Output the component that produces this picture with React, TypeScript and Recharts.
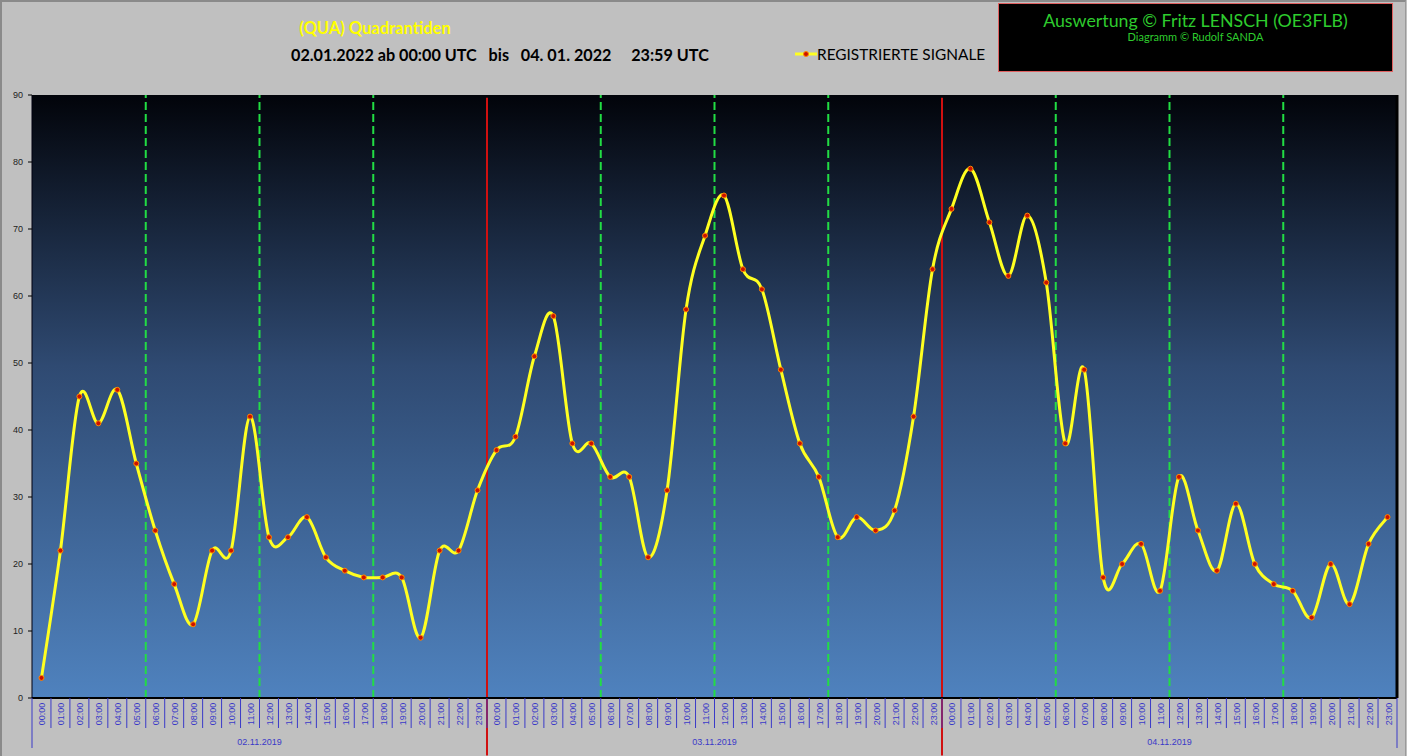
import { LineChart, Line, XAxis, YAxis, ReferenceLine, ReferenceArea } from 'recharts'

const HOURS = [
  '00:00', '01:00', '02:00', '03:00', '04:00', '05:00', '06:00', '07:00',
  '08:00', '09:00', '10:00', '11:00', '12:00', '13:00', '14:00', '15:00',
  '16:00', '17:00', '18:00', '19:00', '20:00', '21:00', '22:00', '23:00',
]
const DAYS = ['02.11.2019', '03.11.2019', '04.11.2019']

const SIGNALS_DAY1 = [3, 22, 45, 41, 46, 35, 25, 17, 11, 22, 22, 42, 24, 24, 27, 21, 19, 18, 18, 18, 9, 22, 22, 31]
const SIGNALS_DAY2 = [37, 39, 51, 57, 38, 38, 33, 33, 21, 31, 58, 69, 75, 64, 61, 49, 38, 33, 24, 27, 25, 28, 42, 64]
const SIGNALS_DAY3 = [73, 79, 71, 63, 72, 62, 38, 49, 18, 20, 23, 16, 33, 25, 19, 29, 20, 17, 16, 12, 20, 14, 23, 27]

const Y_TICKS = [0, 10, 20, 30, 40, 50, 60, 70, 80, 90]
// green dashed marker after these hours, red line between days
const GREEN_AFTER = ['05:00', '11:00', '17:00']

const SIGNALS = [SIGNALS_DAY1, SIGNALS_DAY2, SIGNALS_DAY3]
const data = SIGNALS.flatMap((day, d) =>
  day.map((value, h) => ({ i: d * 24 + h, hour: HOURS[h], value })),
)
const xTicks = data.map((p) => p.i)
const greenLines = DAYS.flatMap((_, d) =>
  GREEN_AFTER.map((h) => d * 24 + HOURS.indexOf(h) + 0.5),
)
const redLines = DAYS.slice(1).map((_, d) => (d + 1) * 24 - 0.5)

const W = 1407
const H = 756
const MARGIN = { top: 95, right: 10, bottom: 0, left: 6 }
const Y_AXIS_W = 26
const HALF_BAND = (W - MARGIN.left - Y_AXIS_W - MARGIN.right) / data.length / 2

const BLUE = '#3a3ac8'

// smoothing like the spreadsheet's "smoothed line" (catmull-rom style)
const smoothCurve = (context) => {
  let pts = []
  return {
    areaStart() {},
    areaEnd() {},
    lineStart() {
      pts = []
    },
    lineEnd() {
      const n = pts.length
      if (!n) return
      context.moveTo(pts[0][0], pts[0][1])
      for (let k = 0; k < n - 1; k++) {
        const p0 = pts[k - 1] ?? pts[k]
        const p1 = pts[k]
        const p2 = pts[k + 1]
        const p3 = pts[k + 2] ?? p2
        context.bezierCurveTo(
          p1[0] + (p2[0] - p0[0]) / 6,
          p1[1] + (p2[1] - p0[1]) / 6,
          p2[0] - (p3[0] - p1[0]) / 6,
          p2[1] - (p3[1] - p1[1]) / 6,
          p2[0],
          p2[1],
        )
      }
    },
    point(x, y) {
      pts.push([+x, +y])
    },
  }
}

const HourTick = ({ x, y, payload }) => {
  const i = payload.value
  const h = i % 24
  const d = Math.floor(i / 24)
  const xl = x - HALF_BAND
  const isEdge = i === 0
  const isLast = i === data.length - 1
  return (
    <g>
      <line x1={xl} x2={xl} y1={y} y2={y + (isEdge ? 50 : 30)} stroke={BLUE} strokeWidth={1} />
      {isLast && (
        <line x1={x + HALF_BAND} x2={x + HALF_BAND} y1={y} y2={y + 50} stroke={BLUE} strokeWidth={1} />
      )}
      <text
        transform={`translate(${x + 1}, ${y + 16}) rotate(-90)`}
        textAnchor="middle"
        dominantBaseline="central"
        fontSize={9}
        fontFamily="Liberation Sans, Arial, sans-serif"
        fill={BLUE}
      >
        {HOURS[h]}
      </text>
      {h === 12 && (
        <text
          x={xl}
          y={y + 44}
          textAnchor="middle"
          dominantBaseline="central"
          fontSize={9}
          fontFamily="Liberation Sans, Arial, sans-serif"
          fill={BLUE}
        >
          {DAYS[d]}
        </text>
      )}
    </g>
  )
}

const LegendMark = () => (
  <svg width={22} height={10} style={{ verticalAlign: 'middle' }}>
    <line x1={0} x2={22} y1={5} y2={5} stroke="#ffff20" strokeWidth={3} />
    <circle cx={11} cy={5} r={2.5} fill="#cc1100" stroke="#ff8800" strokeWidth={1} />
  </svg>
)

export default function App() {
  return (
    <div
      style={{
        position: 'absolute',
        left: 0,
        top: 0,
        width: W,
        height: H,
        background: '#c0c0c0',
        overflow: 'hidden',
        fontFamily: 'Lato, sans-serif',
      }}
    >
      <div
        style={{
          position: 'absolute',
          left: 0,
          top: 0,
          width: W - 4,
          height: H,
          borderTop: '2px solid #8a8a8a',
          borderLeft: '2px solid #8a8a8a',
          borderRight: '1px solid #9a9a9a',
          pointerEvents: 'none',
        }}
      />
      <div
        style={{
          position: 'absolute',
          left: 375,
          top: 28,
          transform: 'translate(-50%, -50%)',
          color: '#ffff00',
          fontSize: 16.5,
          fontWeight: 700,
          whiteSpace: 'pre',
        }}
      >
        (QUA) Quadrantiden
      </div>
      <div
        style={{
          position: 'absolute',
          left: 291,
          top: 54,
          transform: 'translateY(-50%)',
          color: '#000',
          fontSize: 16.2,
          fontWeight: 700,
          whiteSpace: 'pre',
        }}
      >
        {'02.01.2022 ab 00:00 UTC   bis   04. 01. 2022     23:59 UTC'}
      </div>
      <div
        style={{
          position: 'absolute',
          left: 795,
          top: 54,
          transform: 'translateY(-50%)',
          color: '#000',
          fontSize: 15.4,
          whiteSpace: 'pre',
          display: 'flex',
          alignItems: 'center',
        }}
      >
        <LegendMark />
        <span>REGISTRIERTE SIGNALE</span>
      </div>
      <div
        style={{
          position: 'absolute',
          left: 998,
          top: 3,
          width: 395,
          height: 69,
          boxSizing: 'border-box',
          background: '#000',
          border: '1px solid #e06060',
          textAlign: 'center',
          color: '#2ecc2e',
        }}
      >
        <div style={{ fontSize: 17.8, lineHeight: '22px', marginTop: 5 }}>
          Auswertung © Fritz LENSCH (OE3FLB)
        </div>
        <div style={{ fontSize: 11, lineHeight: '12px', marginTop: 0 }}>
          Diagramm © Rudolf SANDA
        </div>
      </div>

      <div style={{ position: 'absolute', left: 0, top: 0 }}>
        <LineChart width={W} height={H} data={data} margin={MARGIN}>
          <defs>
            <linearGradient id="plotBg" x1="0" y1="0" x2="0" y2="1">
              <stop offset="0%" stopColor="#02040a" />
              <stop offset="45%" stopColor="#2f4a72" />
              <stop offset="100%" stopColor="#4f82be" />
            </linearGradient>
          </defs>
          <ReferenceArea
            x1={-0.5}
            x2={data.length - 0.5}
            y1={0}
            y2={90}
            fill="url(#plotBg)"
            fillOpacity={1}
            stroke="none"
          />
          <XAxis
            dataKey="i"
            type="number"
            domain={[-0.5, data.length - 0.5]}
            ticks={xTicks}
            interval={0}
            height={58}
            tickSize={0}
            tickMargin={0}
            tickLine={false}
            axisLine={{ stroke: '#000', strokeWidth: 2 }}
            tick={HourTick}
          />
          <YAxis
            domain={[0, 90]}
            ticks={Y_TICKS}
            interval={0}
            width={Y_AXIS_W}
            tickSize={4}
            tickMargin={5}
            axisLine={{ stroke: '#000010', strokeWidth: 1 }}
            tickLine={{ stroke: '#000' }}
            tick={{ fontSize: 9, fill: '#222', fontFamily: 'Liberation Sans, Arial, sans-serif' }}
          />
          {greenLines.map((x) => (
            <ReferenceLine
              key={`g${x}`}
              x={x}
              stroke="#22dd44"
              strokeWidth={2}
              strokeDasharray="8 4"
            />
          ))}
          {redLines.map((x) => (
            <ReferenceLine
              key={`r${x}`}
              segment={[
                { x, y: 89.6 },
                { x, y: -8.6 },
              ]}
              ifOverflow="visible"
              stroke="#d01010"
              strokeWidth={2}
            />
          ))}
          <ReferenceLine x={data.length - 0.5} stroke="#000" strokeWidth={3} />
          <Line
            dataKey="value"
            type={smoothCurve}
            stroke="#ffff20"
            strokeWidth={3}
            dot={{ r: 2.5, fill: '#cc1100', stroke: '#ff8800', strokeWidth: 1 }}
            activeDot={false}
            isAnimationActive={false}
          />
        </LineChart>
      </div>
    </div>
  )
}
